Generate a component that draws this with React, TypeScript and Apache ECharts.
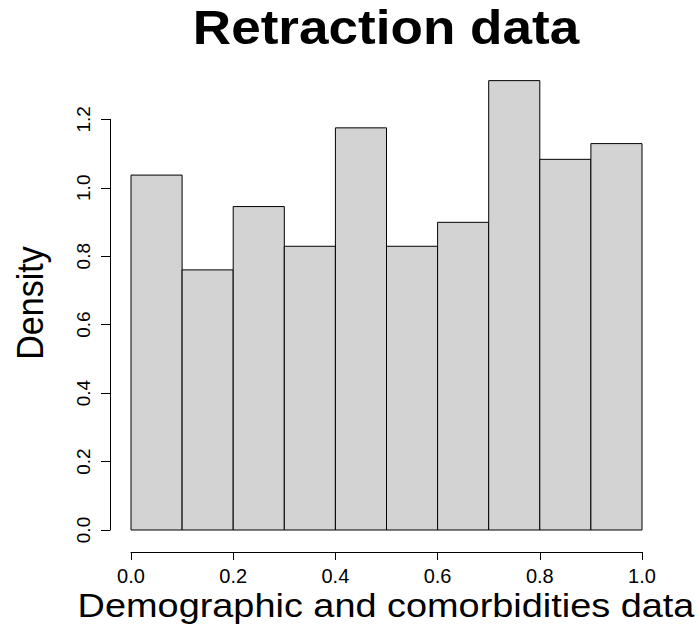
import React, { useEffect, useRef } from "react";
import * as echarts from "echarts";

const binStarts = [0.0, 0.1, 0.2, 0.3, 0.4, 0.5, 0.6, 0.7, 0.8, 0.9];
const binWidth = 0.1;
const densities = [1.037, 0.760, 0.945, 0.829, 1.175, 0.829, 0.899, 1.313, 1.083, 1.129];
const xTicks = [0.0, 0.2, 0.4, 0.6, 0.8, 1.0];
const yTicks = [0.0, 0.2, 0.4, 0.6, 0.8, 1.0, 1.2];
const titleText = "Retraction data";
const xLabel = "Demographic and comorbidities data";
const yLabel = "Density";

const FONT = "Liberation Sans, Arial, Helvetica, sans-serif";

export default function App() {
  const ref = useRef<HTMLDivElement>(null);
  useEffect(() => {
    if (!ref.current) return;
    const chart = echarts.init(ref.current, undefined, { renderer: "svg" });
    const data = binStarts.map((s, i) => [s, s + binWidth, densities[i]]);
    chart.setOption({
      animation: false,
      backgroundColor: "#ffffff",
      textStyle: { fontFamily: FONT, color: "#000" },
      grid: { left: 131, right: 57, top: 119.3, bottom: 97, containLabel: false },
      graphic: [
        {
          type: "text",
          x: 386,
          y: 27,
          scaleX: 1.106,
          style: {
            text: titleText,
            fontFamily: FONT,
            fontWeight: "bold",
            fontSize: 48,
            fill: "#000",
            textAlign: "center",
            textVerticalAlign: "middle",
          },
        },
        {
          type: "text",
          x: 30,
          y: 303,
          rotation: Math.PI / 2,
          scaleY: 1.1,
          style: {
            text: yLabel,
            fontFamily: FONT,
            fontSize: 34,
            fill: "#000",
            textAlign: "center",
            textVerticalAlign: "middle",
          },
        },
        {
          type: "text",
          x: 386,
          y: 605,
          scaleX: 1.114,
          style: {
            text: xLabel,
            fontFamily: FONT,
            fontSize: 34,
            fill: "#000",
            textAlign: "center",
            textVerticalAlign: "middle",
          },
        },
      ],
      xAxis: {
        type: "value",
        min: 0,
        max: 1,
        interval: 0.2,
        offset: 22,
        splitLine: { show: false },
        axisLine: { show: true, onZero: false, lineStyle: { color: "#000", width: 1 } },
        axisTick: { show: true, length: 8, lineStyle: { color: "#000" } },
        axisLabel: {
          color: "#000",
          fontFamily: FONT,
          fontSize: 20,
          margin: 14,
          formatter: (v: number) => v.toFixed(1),
        },
      },
      yAxis: {
        type: "value",
        min: 0,
        max: 1.2,
        interval: 0.2,
        offset: 21,
        splitLine: { show: false },
        axisLine: { show: true, onZero: false, lineStyle: { color: "#000", width: 1 } },
        axisTick: { show: true, length: 9, lineStyle: { color: "#000" } },
        axisLabel: {
          color: "#000",
          fontFamily: FONT,
          fontSize: 19,
          rotate: 90,
          margin: 17,
          formatter: (v: number) => v.toFixed(1),
        },
      },
      series: [
        {
          type: "custom",
          clip: false,
          data,
          renderItem: (params: any, api: any) => {
            const x0 = api.value(0);
            const x1 = api.value(1);
            const y = api.value(2);
            const p0 = api.coord([x0, 0]);
            const p1 = api.coord([x1, y]);
            return {
              type: "rect",
              shape: { x: p0[0], y: p1[1], width: p1[0] - p0[0], height: p0[1] - p1[1] },
              style: { fill: "#d3d3d3", stroke: "#000", lineWidth: 1 },
            };
          },
        },
      ],
    });
    return () => chart.dispose();
  }, []);
  return <div ref={ref} style={{ width: 699, height: 627, position: "absolute", left: 0, top: 0 }} />;
}
